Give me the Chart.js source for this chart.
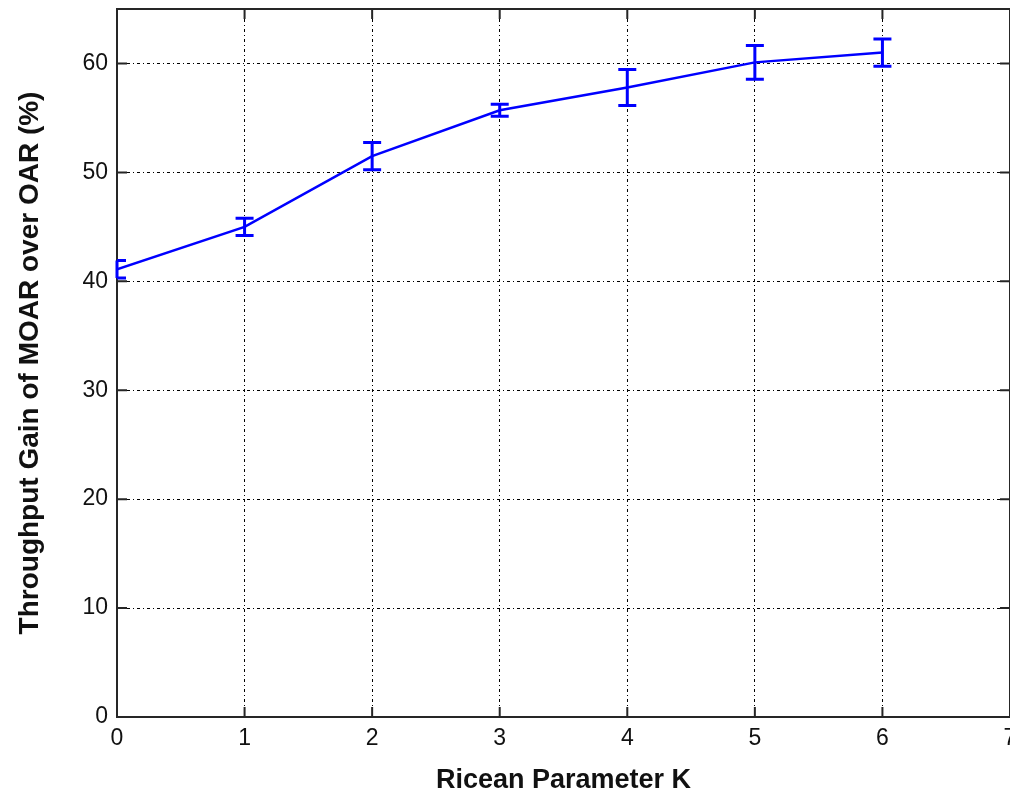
<!DOCTYPE html>
<html>
<head>
<meta charset="utf-8">
<script src="https://cdn.jsdelivr.net/npm/chart.js@4/dist/chart.umd.min.js"></script>
<style>
  html, body { margin: 0; padding: 0; background: #ffffff; }
  #wrap { width: 1010px; height: 798px; }
</style>
</head>
<body>
<div id="wrap"><canvas id="c" width="1010" height="798"></canvas></div>
<script>
// ---- data ----
const kValues   = [0, 1, 2, 3, 4, 5, 6];
const gainMean  = [41.1, 45.0, 51.5, 55.7, 57.8, 60.1, 61.0];
const gainError = [0.8, 0.8, 1.25, 0.55, 1.65, 1.55, 1.25];
const xTicks    = [0, 1, 2, 3, 4, 5, 6, 7];
const yTicks    = [0, 10, 20, 30, 40, 50, 60];
const xTitle    = 'Ricean Parameter K';
const yTitle    = 'Throughput Gain of MOAR over OAR (%)';

const FONT = "'Liberation Sans', Arial, Helvetica, sans-serif";
const BLUE = '#0000ff';

// error bars + MATLAB-style frame with inward ticks
const matlabPlugin = {
  id: 'matlab',
  afterDatasetsDraw(chart) {
    const { ctx, chartArea: a, scales: { x, y } } = chart;
    ctx.save();
    // frame
    ctx.strokeStyle = '#262626';
    ctx.lineWidth = 2;
    ctx.setLineDash([]);
    ctx.strokeRect(a.left, a.top, a.right - a.left, a.bottom - a.top);
    // inward ticks
    const tl = 10;
    ctx.beginPath();
    xTicks.forEach(v => {
      const px = x.getPixelForValue(v);
      ctx.moveTo(px, a.bottom); ctx.lineTo(px, a.bottom - tl);
      ctx.moveTo(px, a.top); ctx.lineTo(px, a.top + tl);
    });
    yTicks.forEach(v => {
      const py = y.getPixelForValue(v);
      ctx.moveTo(a.left, py); ctx.lineTo(a.left + tl, py);
      ctx.moveTo(a.right, py); ctx.lineTo(a.right - tl, py);
    });
    ctx.stroke();
    // error bars
    ctx.strokeStyle = BLUE;
    ctx.lineWidth = 3;
    const cap = 9;
    kValues.forEach((k, i) => {
      const px = x.getPixelForValue(k);
      const pHi = y.getPixelForValue(gainMean[i] + gainError[i]);
      const pLo = y.getPixelForValue(gainMean[i] - gainError[i]);
      ctx.beginPath();
      ctx.moveTo(px, pHi); ctx.lineTo(px, pLo);
      ctx.moveTo(Math.max(px - cap, a.left), pHi); ctx.lineTo(px + cap, pHi);
      ctx.moveTo(Math.max(px - cap, a.left), pLo); ctx.lineTo(px + cap, pLo);
      ctx.stroke();
    });
    ctx.restore();
  }
};

new Chart(document.getElementById('c'), {
  type: 'line',
  data: {
    datasets: [{
      data: kValues.map((k, i) => ({ x: k, y: gainMean[i] })),
      borderColor: BLUE,
      borderWidth: 2.5,
      pointRadius: 0,
      tension: 0,
      fill: false
    }]
  },
  options: {
    responsive: false,
    animation: false,
    layout: { padding: { top: 9, right: 0, left: 0, bottom: 0 } },
    plugins: { legend: { display: false }, tooltip: { enabled: false } },
    scales: {
      x: {
        type: 'linear',
        min: 0, max: 7,
        afterBuildTicks: s => { s.ticks = xTicks.map(v => ({ value: v })); },
        afterFit: s => { s.height = 81; s.paddingLeft = 0; s.paddingRight = 0; },
        ticks: { color: '#111', font: { family: FONT, size: 23 }, padding: 8, maxRotation: 0, autoSkip: false },
        grid: { color: '#000', lineWidth: 1, drawTicks: false },
        border: { display: false, dash: [3, 3, 1, 3] },
        title: { display: true, text: xTitle, color: '#111', font: { family: FONT, size: 27, weight: 'bold' }, padding: { top: 0, bottom: 1 } }
      },
      y: {
        type: 'linear',
        min: 0, max: 65,
        afterBuildTicks: s => { s.ticks = yTicks.map(v => ({ value: v })); },
        afterFit: s => { s.width = 117; s.paddingTop = 0; s.paddingBottom = 0; },
        ticks: { color: '#111', font: { family: FONT, size: 23 }, padding: 9 },
        grid: { color: '#000', lineWidth: 1, drawTicks: false },
        border: { display: false, dash: [3, 3, 1, 3] },
        title: { display: true, text: yTitle, color: '#111', font: { family: FONT, size: 28, weight: 'bold' }, padding: { top: 13, bottom: 0 } }
      }
    }
  },
  plugins: [matlabPlugin]
});
</script>
</body>
</html>
